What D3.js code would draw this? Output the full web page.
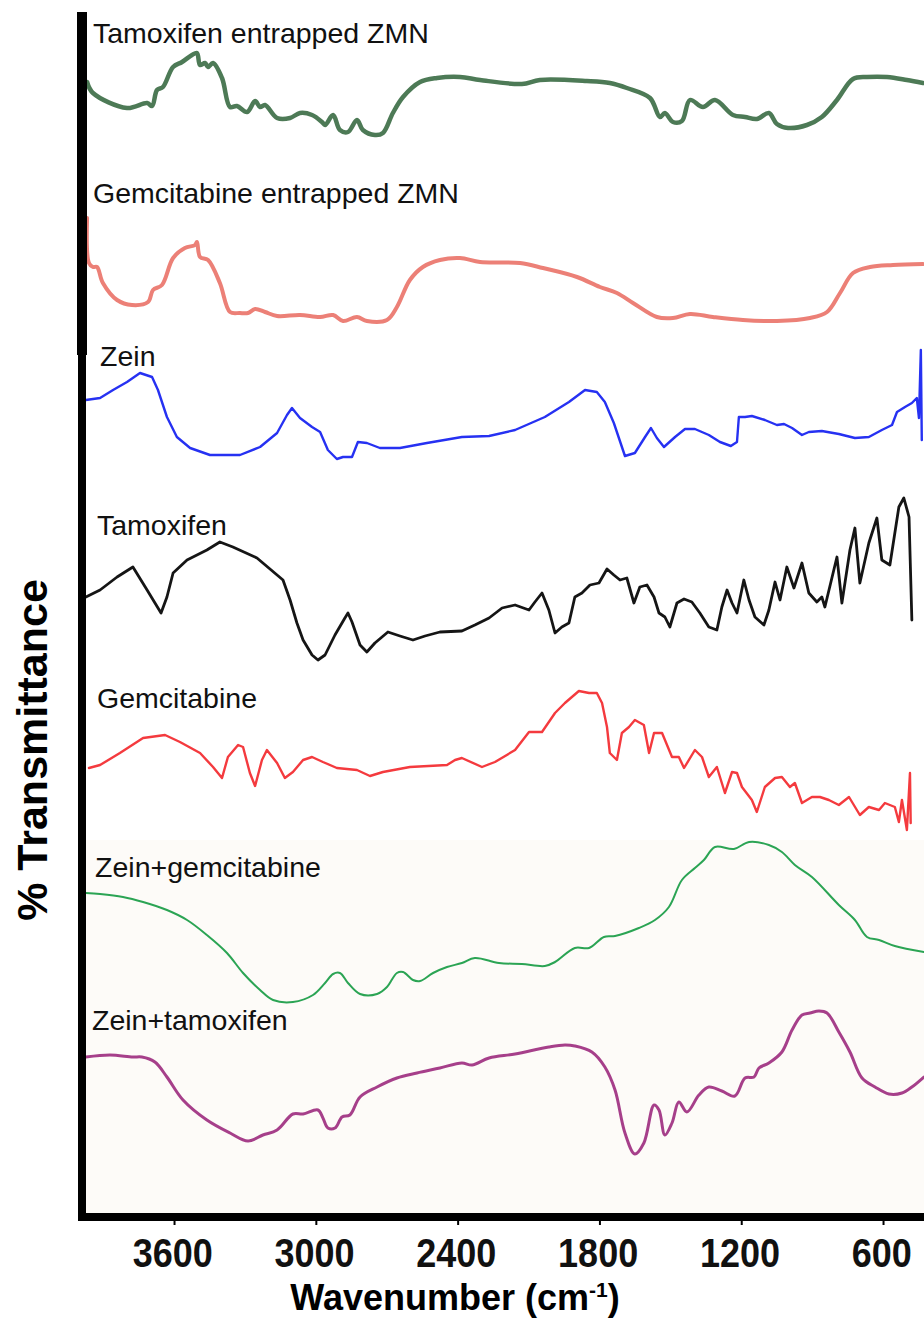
<!DOCTYPE html>
<html>
<head>
<meta charset="utf-8">
<script src="https://cdn.jsdelivr.net/npm/d3@7"></script>
<style>
  html, body { margin: 0; padding: 0; background: #fff; }
  svg { display: block; }
</style>
</head>
<body>
<div id="chart"></div>
<script>
// FTIR spectra, stacked. x = wavenumber (cm-1), y = % transmittance (stacked, arbitrary offset units)
const sampleNames = [
  'Tamoxifen entrapped ZMN',
  'Gemcitabine entrapped ZMN',
  'Zein',
  'Tamoxifen',
  'Gemcitabine',
  'Zein+gemcitabine',
  'Zein+tamoxifen',
];

const xTicks = [3600, 3000, 2400, 1800, 1200, 600];

// [wavenumber, value] where label baseline sits
const labelAnchors = [
  [3943, 1174], [3943, 1014], [3913, 851], [3926, 682], [3926, 509], [3934, 340], [3947, 187],
];

const tamZmn = [
  [3968,1135],[3943,1124],[3799,1109],[3714,1114],[3693,1111],[3672,1127],[3647,1130],[3604,1150],
  [3566,1155],[3524,1162],[3503,1164],[3490,1152],[3469,1154],[3456,1150],[3435,1154],[3397,1139],
  [3363,1110],[3334,1111],[3291,1105],[3257,1116],[3236,1110],[3215,1112],[3164,1099],[3109,1099],
  [3067,1104],[3016,1102],[2974,1095],[2961,1092],[2927,1102],[2898,1087],[2864,1085],[2826,1097],
  [2801,1087],[2750,1082],[2716,1084],[2674,1104],[2631,1120],[2559,1135],[2487,1139],[2390,1140],
  [2305,1137],[2128,1133],[2052,1137],[1853,1136],[1756,1134],[1684,1129],[1586,1119],[1544,1100],
  [1523,1104],[1489,1095],[1451,1096],[1417,1117],[1362,1110],[1311,1117],[1235,1102],[1184,1100],
  [1134,1098],[1083,1104],[1049,1093],[1002,1089],[922,1092],[859,1100],[795,1117],[727,1138],
  [668,1140],[583,1140],[499,1137],[431,1134],
];

const gemZmn = [
  [3968,999],[3960,954],[3943,950],[3926,950],[3901,934],[3841,917],[3778,912],[3710,915],
  [3689,927],[3651,932],[3604,959],[3554,969],[3511,972],[3503,975],[3490,960],[3456,957],
  [3406,934],[3363,905],[3321,904],[3287,904],[3257,908],[3215,905],[3164,901],[3067,902],
  [2982,900],[2927,902],[2885,896],[2826,900],[2784,896],[2699,897],[2657,910],[2602,937],
  [2547,950],[2475,957],[2390,959],[2305,955],[2136,954],[2039,949],[1895,940],[1798,930],
  [1726,924],[1658,914],[1557,900],[1489,899],[1417,903],[1320,900],[1193,897],[1049,896],
  [909,899],[837,905],[782,924],[727,944],[655,950],[558,952],[431,953],
];

const zein = [
  [3973,817],[3913,819],[3858,827],[3799,835],[3744,844],[3693,840],[3668,827],[3630,800],
  [3588,780],[3532,769],[3448,762],[3321,762],[3236,770],[3164,784],[3122,802],[3101,809],
  [3067,799],[3016,790],[2982,785],[2949,767],[2911,758],[2885,760],[2847,760],[2822,775],
  [2784,774],[2729,769],[2644,769],[2530,774],[2382,780],[2267,781],[2157,787],[2031,800],
  [1929,815],[1861,827],[1811,825],[1777,815],[1739,794],[1692,761],[1650,764],[1607,780],
  [1582,789],[1557,779],[1527,770],[1480,780],[1438,788],[1396,788],[1337,782],[1290,775],
  [1244,771],[1218,775],[1210,800],[1184,800],[1155,801],[1100,797],[1049,792],[1019,793],
  [985,789],[943,782],[914,785],[859,786],[787,783],[719,779],[660,780],[605,787],
  [562,792],[541,805],[507,810],[478,814],[457,819],[448,799],[440,867],[436,777],
];

const tamoxifen = [
  [3973,620],[3913,627],[3841,640],[3774,650],[3714,627],[3655,604],[3630,620],[3604,644],
  [3545,657],[3461,667],[3406,675],[3351,670],[3249,659],[3139,637],[3109,617],[3080,594],
  [3054,577],[3016,562],[2991,557],[2961,562],[2919,582],[2877,599],[2864,604],[2847,595],
  [2813,572],[2784,565],[2750,574],[2695,585],[2644,581],[2589,577],[2538,581],[2475,585],
  [2382,586],[2327,592],[2267,599],[2212,609],[2157,612],[2098,607],[2073,615],[2043,624],
  [2014,607],[1988,584],[1959,590],[1929,594],[1904,620],[1874,624],[1840,632],[1802,634],
  [1768,648],[1739,642],[1713,637],[1684,639],[1654,614],[1629,630],[1599,632],[1569,620],
  [1548,604],[1523,600],[1502,590],[1472,614],[1442,618],[1409,615],[1375,604],[1337,590],
  [1303,587],[1282,610],[1260,627],[1239,614],[1218,604],[1189,637],[1167,617],[1142,600],
  [1104,592],[1083,607],[1057,635],[1036,617],[1007,650],[977,629],[943,654],[914,624],
  [880,615],[859,620],[846,610],[795,660],[774,614],[740,667],[719,689],[698,634],
  [660,674],[626,699],[605,657],[571,652],[533,710],[512,719],[490,700],[478,597],
];

const gemcitabine = [
  [3960,449],[3913,452],[3829,464],[3731,479],[3638,482],[3575,475],[3490,464],[3435,450],
  [3397,439],[3372,460],[3329,472],[3308,470],[3279,444],[3257,431],[3228,457],[3207,467],
  [3164,454],[3131,439],[3097,445],[3054,457],[3016,460],[2970,455],[2911,449],[2826,447],
  [2771,441],[2716,445],[2602,450],[2445,452],[2411,457],[2382,459],[2297,450],[2242,455],
  [2157,467],[2098,485],[2043,485],[1988,504],[1946,514],[1887,526],[1844,524],[1811,524],
  [1789,514],[1768,490],[1756,464],[1726,457],[1705,484],[1675,490],[1650,497],[1612,492],
  [1590,464],[1569,484],[1535,484],[1493,460],[1464,460],[1442,449],[1396,467],[1366,460],
  [1337,440],[1303,450],[1269,424],[1239,445],[1218,444],[1197,430],[1155,417],[1134,405],
  [1100,430],[1057,439],[1028,440],[994,430],[973,434],[943,414],[901,420],[867,420],
  [829,417],[787,412],[744,420],[698,402],[660,410],[617,407],[592,414],[550,410],
  [533,395],[520,417],[499,387],[486,444],[483,394],
];

const zeinGem = [
  [3973,324],[3913,323],[3816,320],[3731,315],[3630,307],[3545,297],[3461,282],[3376,264],
  [3308,244],[3236,227],[3181,217],[3097,215],[3012,222],[2961,234],[2927,243],[2898,244],
  [2864,234],[2813,223],[2741,223],[2699,230],[2657,244],[2631,245],[2589,237],[2559,236],
  [2504,244],[2445,250],[2382,254],[2327,259],[2225,254],[2128,253],[2031,251],[1988,255],
  [1904,269],[1844,269],[1781,280],[1734,281],[1633,289],[1565,297],[1506,310],[1451,337],
  [1396,349],[1358,357],[1311,370],[1231,368],[1167,375],[1083,372],[1028,365],[973,352],
  [901,340],[787,312],[719,297],[668,280],[617,277],[550,271],[427,265],
];

const zeinTam = [
  [3973,160],[3871,162],[3774,160],[3736,160],[3681,155],[3630,140],[3562,117],[3461,97],
  [3363,84],[3287,76],[3224,82],[3164,87],[3097,103],[3054,103],[2991,107],[2970,99],
  [2949,89],[2919,89],[2889,100],[2856,102],[2813,120],[2741,130],[2657,139],[2572,144],
  [2475,149],[2382,154],[2339,152],[2267,159],[2157,163],[2014,170],[1946,172],[1904,171],
  [1832,165],[1777,150],[1734,127],[1692,84],[1650,63],[1612,74],[1569,112],[1548,107],
  [1523,82],[1493,94],[1464,115],[1430,105],[1379,122],[1337,130],[1282,126],[1227,121],
  [1184,139],[1146,140],[1125,149],[1083,154],[1028,165],[985,187],[943,202],[909,204],
  [871,206],[837,204],[787,185],[740,165],[689,139],[634,130],[575,123],[520,124],
  [478,130],[427,140],
];

const spectra = [tamZmn, gemZmn, zein, tamoxifen, gemcitabine, zeinGem, zeinTam];

// styling per trace
const colors = ['#4d7a56', '#ec8077', '#2631f2', '#151515', '#f43a3e', '#2ba454', '#a63f8a'];
const widths = [4.5, 4, 2.4, 2.8, 2.4, 2, 3];
const smooth = [true, true, false, false, false, true, true];

const width = 924;
const height = 1335;
const axisY = 1217;

const x = d3.scaleLinear().domain([4000, 400]).range([79.5, 930.3]);
const y = d3.scaleLinear().domain([0, 1200]).range([axisY, 17]);

const svg = d3.select('#chart').append('svg')
  .attr('width', width)
  .attr('height', height)
  .style('font-family', '"Liberation Sans", Arial, sans-serif');

// faint off-white panel behind the lower two traces
svg.append('rect')
  .attr('x', 86).attr('y', 840)
  .attr('width', width - 86).attr('height', axisY - 4 - 840)
  .attr('fill', '#fdfbf8');

const lineSmooth = d3.line()
  .x(d => x(d[0]))
  .y(d => y(d[1]))
  .curve(d3.curveCatmullRom.alpha(0.5));

const lineRaw = d3.line()
  .x(d => x(d[0]))
  .y(d => y(d[1]));

svg.selectAll('.trace')
  .data(spectra)
  .enter().append('path')
  .attr('class', 'trace')
  .attr('d', (d, i) => smooth[i] ? lineSmooth(d) : lineRaw(d))
  .attr('fill', 'none')
  .attr('stroke', (d, i) => colors[i])
  .attr('stroke-width', (d, i) => widths[i])
  .attr('stroke-linejoin', 'round')
  .attr('stroke-linecap', 'round');

svg.selectAll('.sample-label')
  .data(sampleNames)
  .enter().append('text')
  .attr('class', 'sample-label')
  .attr('x', (d, i) => x(labelAnchors[i][0]))
  .attr('y', (d, i) => y(labelAnchors[i][1]))
  .attr('font-size', 28.5)
  .attr('fill', '#111')
  .text(d => d);

// left axis (upper part drawn heavier, as in the figure)
svg.append('line')
  .attr('x1', 82).attr('x2', 82)
  .attr('y1', 12).attr('y2', axisY + 4)
  .attr('stroke', '#000').attr('stroke-width', 8);
svg.append('line')
  .attr('x1', 82).attr('x2', 82)
  .attr('y1', 12).attr('y2', 355)
  .attr('stroke', '#000').attr('stroke-width', 10);

// bottom axis
const xAxis = d3.axisBottom(x)
  .tickValues(xTicks)
  .tickSize(8)
  .tickFormat(d3.format('d'));

const gx = svg.append('g')
  .attr('transform', `translate(0,${axisY})`)
  .call(xAxis);

gx.select('.domain').remove();
gx.selectAll('.tick line').attr('stroke', '#000').attr('stroke-width', 2);
gx.selectAll('.tick text')
  .attr('y', 50)
  .attr('dy', null)
  .attr('x', -2)
  .attr('transform', 'scale(0.9,1)')
  .attr('fill', '#111')
  .style('font-family', '"Liberation Sans", Arial, sans-serif')
  .style('font-weight', 'bold')
  .style('font-size', '40px');

svg.append('line')
  .attr('x1', 78).attr('x2', width)
  .attr('y1', axisY).attr('y2', axisY)
  .attr('stroke', '#000').attr('stroke-width', 8);

// axis titles
const xTitle = svg.append('text')
  .attr('x', 455)
  .attr('y', 1310)
  .attr('text-anchor', 'middle')
  .attr('font-size', 36)
  .attr('font-weight', 'bold')
  .attr('fill', '#000');
xTitle.append('tspan').text('Wavenumber (cm');
xTitle.append('tspan').attr('font-size', 21).attr('dy', -13).text('-1');
xTitle.append('tspan').attr('dy', 13).text(')');

svg.append('text')
  .attr('transform', 'translate(47,750) rotate(-90)')
  .attr('text-anchor', 'middle')
  .attr('font-size', 43)
  .attr('font-weight', 'bold')
  .attr('fill', '#000')
  .text('% Transmittance');
</script>
</body>
</html>
